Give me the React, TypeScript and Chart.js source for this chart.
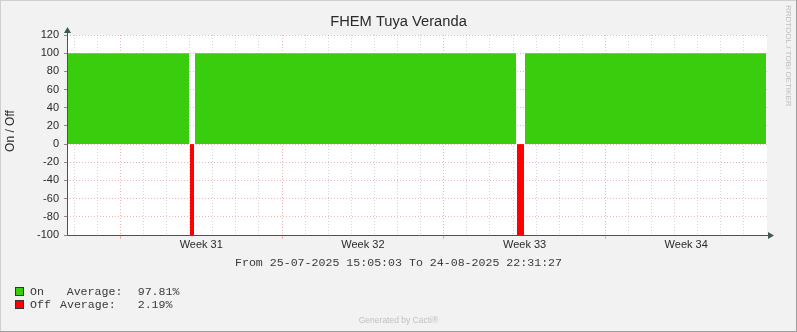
import { useEffect, useRef } from 'react';
import { Chart, registerables } from 'chart.js';

Chart.register(...registerables);

// ---- graph texts ----
const graphTitle = 'FHEM Tuya Veranda';
const yAxisTitle = 'On / Off';
const sideCredit = 'RRDTOOL / TOBI OETIKER';
const footer = 'Generated by Cacti®';
const rangeStartLabel = '25-07-2025 15:05:03';
const rangeEndLabel = '24-08-2025 22:31:27';

// ---- time axis (hours since the range start) ----
const spanHours = 727.44;
const firstMidnightHours = 7.5;
const firstMondayHours = 55.5;
const weekLabels = ['Week 31', 'Week 32', 'Week 33', 'Week 34'];

// ---- value axis ----
const yMin = -100;
const yMax = 120;
const yStep = 10;
const yLabelStep = 20;

// ---- series: periods in hours since the range start ----
const seriesNames = ['On', 'Off'];
const onStartHours = [0, 133.0, 475.9];
const onEndHours = [126.8, 466.6, 726.4];
const offStartHours = [127.8, 467.6];
const offEndHours = [132.0, 474.9];
const onLevel = 100;
const offLevel = -100;
const seriesAverages = [97.81, 2.19];

const ON_COLOR = 'rgb(58, 205, 14)';
const OFF_COLOR = '#ff0000';
const MAJOR_GRID = 'rgba(225, 110, 110, 0.5)';
const MINOR_GRID = 'rgba(160, 160, 160, 0.45)';
const AXIS_COLOR = '#3d5a52';
const TEXT_COLOR = '#2a2a2a';

type Pt = { x: number; y: number | null };

function periodPoints(starts: number[], ends: number[], level: number): Pt[] {
  const pts: Pt[] = [];
  starts.forEach((s, i) => {
    pts.push({ x: s, y: level }, { x: ends[i], y: level }, { x: ends[i], y: null });
  });
  return pts;
}

const dayTicks: number[] = [];
for (let h = firstMidnightHours; h <= spanHours; h += 24) dayTicks.push(h);
const mondayTicks = weekLabels.map((_, i) => firstMondayHours + i * 168);
const weekCenters = mondayTicks.map((m) => m + 84);
const xTickValues = [...dayTicks, ...weekCenters].sort((a, b) => a - b);

const near = (list: number[], v: number) => list.some((x) => Math.abs(x - v) < 1e-6);

const decorations = {
  id: 'rrdDecorations',
  beforeDraw(chart: Chart) {
    const { ctx, width, height, chartArea: a } = chart;
    ctx.save();
    ctx.fillStyle = '#f2f2f2';
    ctx.fillRect(0, 0, width, height);
    ctx.fillStyle = '#cfcfcf';
    ctx.fillRect(0, 0, width, 1);
    ctx.fillRect(0, 0, 1, height);
    ctx.fillStyle = '#9e9e9e';
    ctx.fillRect(0, height - 1, width, 1);
    ctx.fillRect(width - 1, 0, 1, height);
    ctx.fillStyle = '#ffffff';
    ctx.fillRect(a.left, a.top, a.right - a.left, a.bottom - a.top);
    ctx.restore();
  },
  afterDraw(chart: Chart) {
    const { ctx, width, chartArea: a } = chart;
    ctx.save();

    // axes with arrow heads
    const ax = a.left + 0.5;
    const ay = a.bottom + 0.5;
    ctx.strokeStyle = AXIS_COLOR;
    ctx.fillStyle = AXIS_COLOR;
    ctx.lineWidth = 1;
    ctx.beginPath();
    ctx.moveTo(ax, ay);
    ctx.lineTo(ax, a.top - 5);
    ctx.moveTo(ax, ay);
    ctx.lineTo(a.right + 4, ay);
    ctx.stroke();
    ctx.beginPath();
    ctx.moveTo(ax, a.top - 8);
    ctx.lineTo(ax - 3.5, a.top - 2);
    ctx.lineTo(ax + 3.5, a.top - 2);
    ctx.closePath();
    ctx.fill();
    ctx.beginPath();
    ctx.moveTo(a.right + 7, ay);
    ctx.lineTo(a.right + 1, ay - 3.5);
    ctx.lineTo(a.right + 1, ay + 3.5);
    ctx.closePath();
    ctx.fill();

    // title
    ctx.fillStyle = TEXT_COLOR;
    ctx.textAlign = 'center';
    ctx.textBaseline = 'middle';
    ctx.font = '14.7px "Liberation Sans", Arial, sans-serif';
    ctx.fillText(graphTitle, width / 2, 21.5);

    // vertical label
    ctx.save();
    ctx.translate(11, (a.top + a.bottom) / 2 - 4);
    ctx.rotate(-Math.PI / 2);
    ctx.font = '12px "Liberation Sans", Arial, sans-serif';
    ctx.fillText(yAxisTitle, 0, 0);
    ctx.restore();

    // side credit
    ctx.save();
    ctx.translate(788.5, 5);
    ctx.rotate(Math.PI / 2);
    ctx.textAlign = 'left';
    ctx.fillStyle = '#bdbdbd';
    ctx.font = '8px "Liberation Sans", Arial, sans-serif';
    ctx.fillText(sideCredit, 0, 0);
    ctx.restore();

    // time range
    ctx.font = '11.6px "Liberation Mono", "Courier New", monospace';
    ctx.fillStyle = '#3a3a3a';
    ctx.fillText(`From ${rangeStartLabel} To ${rangeEndLabel}`, width / 2, 263);

    // legend
    const colors = [ON_COLOR, OFF_COLOR];
    const rowY = [291.5, 304.5];
    const avgX = [66.7, 60];
    ctx.textAlign = 'left';
    seriesNames.forEach((name, i) => {
      const y = rowY[i];
      ctx.fillStyle = colors[i];
      ctx.fillRect(15, y - 4.5, 9, 9);
      ctx.strokeStyle = '#333333';
      ctx.strokeRect(15.5, y - 4, 8, 8);
      ctx.fillStyle = '#3a3a3a';
      ctx.fillText(name, 30, y);
      ctx.fillText('Average:', avgX[i], y);
      ctx.fillText(`${seriesAverages[i].toFixed(2)}%`, 137.7, y);
    });

    // footer
    ctx.textAlign = 'center';
    ctx.fillStyle = '#c0c0c0';
    ctx.font = '8.5px "Liberation Sans", Arial, sans-serif';
    ctx.fillText(footer, width / 2, 321);

    ctx.restore();
  },
};

export default function App() {
  const canvasRef = useRef<HTMLCanvasElement>(null);

  useEffect(() => {
    const canvas = canvasRef.current;
    if (!canvas) return;
    const chart = new Chart(canvas, {
      type: 'line',
      data: {
        datasets: [
          {
            label: seriesNames[0],
            data: periodPoints(onStartHours, onEndHours, onLevel),
            backgroundColor: ON_COLOR,
            borderColor: 'rgba(0,0,0,0)',
            borderWidth: 0,
            pointRadius: 0,
            fill: 'origin',
            spanGaps: false,
            tension: 0,
          },
          {
            label: seriesNames[1],
            data: periodPoints(offStartHours, offEndHours, offLevel),
            backgroundColor: OFF_COLOR,
            borderColor: 'rgba(0,0,0,0)',
            borderWidth: 0,
            pointRadius: 0,
            fill: 'origin',
            spanGaps: false,
            tension: 0,
          },
        ],
      },
      options: {
        responsive: false,
        animation: false,
        devicePixelRatio: 1,
        events: [],
        layout: { padding: { top: 35, right: 30, left: 0, bottom: 0 } },
        plugins: {
          legend: { display: false },
          title: { display: false },
          tooltip: { enabled: false },
        },
        scales: {
          x: {
            type: 'linear',
            min: 0,
            max: spanHours,
            afterBuildTicks: (scale: any) => {
              scale.ticks = xTickValues.map((value) => ({ value }));
            },
            afterFit: (scale: any) => {
              scale.height = 97;
            },
            ticks: {
              autoSkip: false,
              maxRotation: 0,
              minRotation: 0,
              padding: 0,
              color: TEXT_COLOR,
              font: { family: '"Liberation Sans", Arial, sans-serif', size: 11, lineHeight: 1 },
              callback: (value: any) => {
                const idx = weekCenters.findIndex((c) => Math.abs(c - Number(value)) < 1e-6);
                return idx >= 0 ? weekLabels[idx] : '';
              },
            },
            grid: {
              lineWidth: 1,
              drawTicks: true,
              tickLength: 4,
              color: (ctx: any) => {
                const v = ctx.tick ? ctx.tick.value : NaN;
                if (near(weekCenters, v)) return 'rgba(0,0,0,0)';
                return near(mondayTicks, v) ? MAJOR_GRID : MINOR_GRID;
              },
              tickColor: (ctx: any) => {
                const v = ctx.tick ? ctx.tick.value : NaN;
                return near(mondayTicks, v) ? MAJOR_GRID : 'rgba(0,0,0,0)';
              },
            },
            border: { display: false, dash: [1, 2] },
          },
          y: {
            type: 'linear',
            min: yMin,
            max: yMax,
            afterFit: (scale: any) => {
              scale.width = 67;
            },
            ticks: {
              stepSize: yStep,
              padding: 5,
              color: TEXT_COLOR,
              font: { family: '"Liberation Sans", Arial, sans-serif', size: 11 },
              callback: (value: any) => (Number(value) % yLabelStep === 0 ? String(value) : ''),
            },
            grid: {
              lineWidth: 1,
              drawTicks: true,
              tickLength: 3,
              color: (ctx: any) =>
                ctx.tick && ctx.tick.value % yLabelStep === 0 ? MAJOR_GRID : MINOR_GRID,
              tickColor: (ctx: any) =>
                ctx.tick && ctx.tick.value % yLabelStep === 0 ? '#8a8a8a' : '#bdbdbd',
            },
            border: { display: false, dash: [1, 2] },
          },
        },
      },
      plugins: [decorations],
    } as any);
    return () => chart.destroy();
  }, []);

  return (
    <div style={{ position: 'absolute', left: 0, top: 0, width: 797, height: 332 }}>
      <canvas ref={canvasRef} width={797} height={332} style={{ display: 'block', width: 797, height: 332 }} />
    </div>
  );
}
